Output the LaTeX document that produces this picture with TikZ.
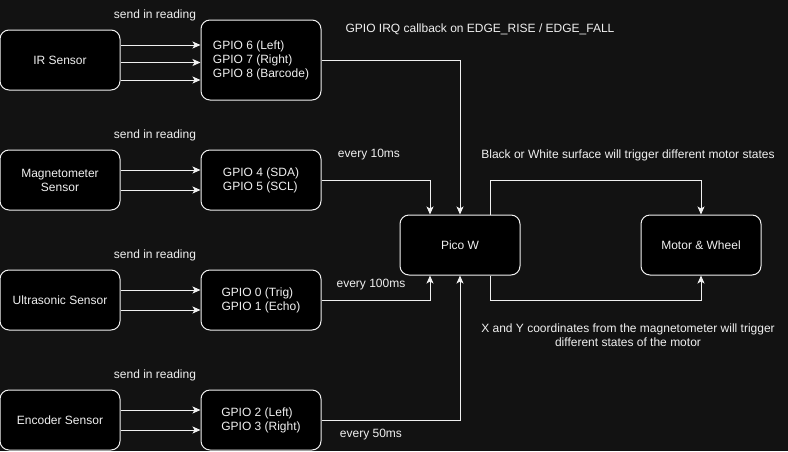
\documentclass[tikz,border=0pt]{standalone}
\usepackage{fontspec}
\setmainfont{Liberation Sans}
\usetikzlibrary{arrows.meta,positioning}
\definecolor{bgdark}{HTML}{121212}
\definecolor{fgline}{HTML}{F0F0F0}

\begin{document}
\begin{tikzpicture}[x=1pt,y=-1pt,node distance=80pt,>={Stealth[length=8pt,width=7pt,inset=2pt]},
    every node/.style={font=\fontsize{12}{14}\selectfont,text=fgline},
    line/.style={draw=fgline,line width=1pt}]
    \tikzstyle{b}=[rectangle,draw=fgline,fill=black,line width=1pt,rounded corners=9pt,align=center,minimum width=120pt,minimum height=60pt]
    \tikzstyle{pin}=[b,align=left]
    \tikzstyle{lbl}=[align=center,inner sep=0pt]
    \fill[bgdark] (0,0) rectangle (788,451);
    \useasboundingbox (0,0) rectangle (788,451);
    % sensors and their pins
    \node[b] (ir) at (60,60) {IR Sensor};
    \node[pin,right=of ir,minimum height=80pt] (irpin) {GPIO 6 (Left)\\GPIO 7 (Right)\\GPIO 8 (Barcode)};
    \node[b] (mag) at (60,180) {Magnetometer\\Sensor};
    \node[pin,right=of mag] (magpin) {GPIO 4 (SDA)\\GPIO 5 (SCL)};
    \node[b] (us) at (60,300) {Ultrasonic Sensor};
    \node[pin,right=of us] (uspin) {GPIO 0 (Trig)\\GPIO 1 (Echo)};
    \node[b] (enc) at (60,420) {Encoder Sensor};
    \node[pin,right=of enc] (encpin) {GPIO 2 (Left)\\GPIO 3 (Right)};
    % controller and motor
    \node[b] (pico) at (460,245) {Pico W};
    \node[b,right=120pt of pico] (motor) {Motor \& Wheel};

    \node[lbl] (sendir) at (155,15) {send in reading};
    \node[lbl] (sendmag) at (155,135) {send in reading};
    \node[lbl] (sendus) at (155,255) {send in reading};
    \node[lbl] (sendenc) at (155,375) {send in reading};
    \node[lbl] (irq) at (480,29) {GPIO IRQ callback on EDGE\_RISE / EDGE\_FALL};
    \node[lbl] (t10) at (369,155) {every 10ms};
    \node[lbl] (t100) at (371,285) {every 100ms};
    \node[lbl] (t50) at (371,435) {every 50ms};
    \node[lbl] (surf) at (628,155) {Black or White surface will trigger different motor states};
    \node[lbl] (xy) at (628,335) {X and Y coordinates from the magnetometer will trigger\\different states of the motor};

    \foreach \s/\p/\d in {ir/irpin/-15,ir/irpin/2.5,ir/irpin/20,mag/magpin/-10,mag/magpin/10,us/uspin/-10,us/uspin/10,enc/encpin/-10,enc/encpin/10}
      \draw[line,->] ([yshift=-\d pt]\s.east) -- ([yshift=-\d pt]\s.east -| \p.west);

    \draw[line,->] (irpin.east) -| (pico.north);
    \draw[line,->] (magpin.east) -| ([xshift=-30pt]pico.north);
    \draw[line,->] (uspin.east) -| ([xshift=-30pt]pico.south);
    \draw[line,->] (encpin.east) -| (pico.south);
    \draw[line,->] ([xshift=30pt]pico.north) |- (magpin.east -| motor.north) -- (motor.north);
    \draw[line,->] ([xshift=30pt]pico.south) |- (uspin.east -| motor.south) -- (motor.south);
\end{tikzpicture}
\end{document}
